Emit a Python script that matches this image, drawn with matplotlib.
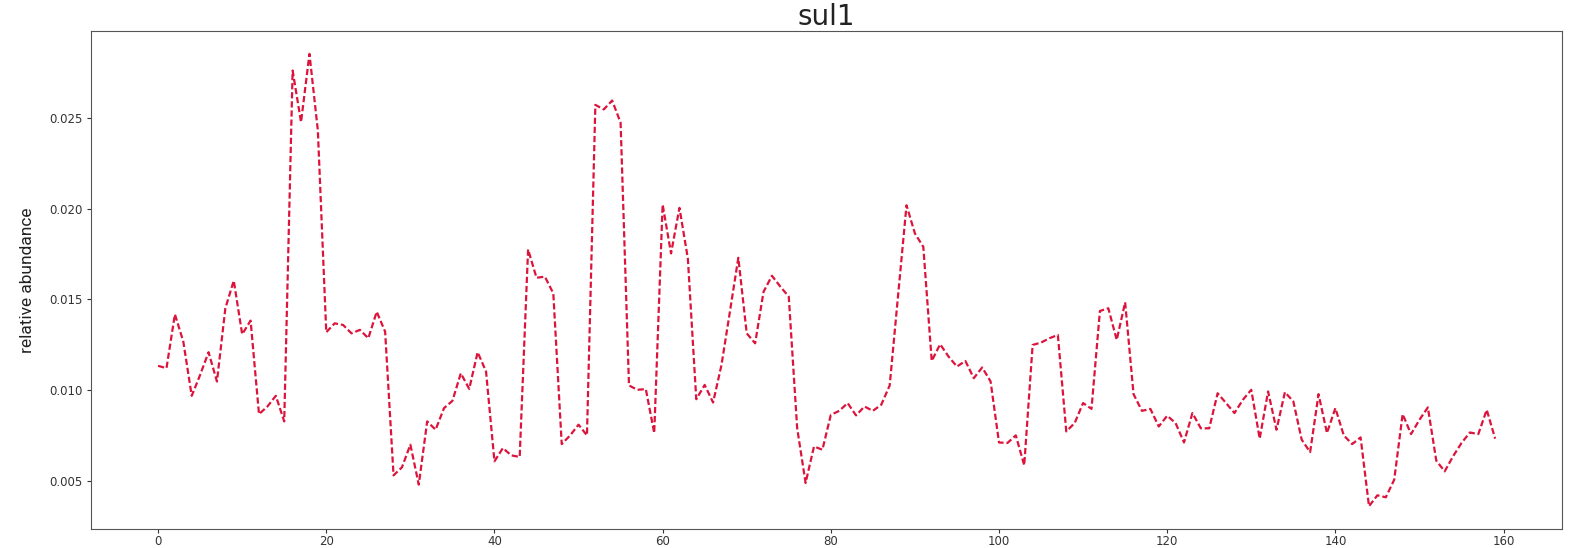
import matplotlib
matplotlib.use("Agg")
import matplotlib.pyplot as plt
import numpy as np

# sul1 relative abundance per sample (index 0..159)
sample_index = list(range(160))
sul1_abundance = [
    0.01134, 0.01121, 0.01418, 0.01267, 0.00969, 0.01084, 0.01209, 0.01048, 0.01451, 0.01603,
    0.01308, 0.01383, 0.00868, 0.00910, 0.00969, 0.00828, 0.02760, 0.02476, 0.02852, 0.02430,
    0.01319, 0.01368, 0.01359, 0.01313, 0.01332, 0.01286, 0.01432, 0.01322, 0.00531, 0.00575,
    0.00700, 0.00480, 0.00828, 0.00782, 0.00901, 0.00941, 0.01093, 0.01007, 0.01209, 0.01103,
    0.00608, 0.00681, 0.00641, 0.00632, 0.01775, 0.01619, 0.01625, 0.01533, 0.00703, 0.00751,
    0.00810, 0.00751, 0.02571, 0.02546, 0.02595, 0.02473, 0.01026, 0.01002, 0.01006, 0.00764,
    0.02022, 0.01753, 0.02004, 0.01725, 0.00950, 0.01029, 0.00932, 0.01139, 0.01432, 0.01729,
    0.01313, 0.01258, 0.01542, 0.01630, 0.01570, 0.01515, 0.00790, 0.00489, 0.00690, 0.00672,
    0.00864, 0.00886, 0.00929, 0.00861, 0.00910, 0.00886, 0.00920, 0.01026, 0.01524, 0.02018,
    0.01863, 0.01789, 0.01161, 0.01253, 0.01185, 0.01130, 0.01161, 0.01066, 0.01125, 0.01048,
    0.00712, 0.00709, 0.00751, 0.00586, 0.01249, 0.01262, 0.01286, 0.01304, 0.00773, 0.00819,
    0.00929, 0.00897, 0.01436, 0.01451, 0.01277, 0.01484, 0.00978, 0.00886, 0.00897, 0.00800,
    0.00859, 0.00819, 0.00712, 0.00874, 0.00790, 0.00790, 0.00983, 0.00929, 0.00874, 0.00947,
    0.01002, 0.00733, 0.00993, 0.00782, 0.00989, 0.00938, 0.00727, 0.00659, 0.00978, 0.00764,
    0.00901, 0.00751, 0.00703, 0.00740, 0.00361, 0.00421, 0.00410, 0.00507, 0.00868, 0.00758,
    0.00837, 0.00905, 0.00612, 0.00553, 0.00636, 0.00709, 0.00767, 0.00758, 0.00892, 0.00733,
]
x_ticks = [0, 20, 40, 60, 80, 100, 120, 140, 160]
y_ticks = [0.005, 0.010, 0.015, 0.020, 0.025]

fig = plt.figure(figsize=(15.73, 5.48), dpi=100)
ax = fig.add_axes([0.058, 0.035, 0.935, 0.908])

ax.plot(sample_index, sul1_abundance, color="crimson", linestyle="--",
        linewidth=1.6, dashes=(2.8, 1.3))

ax.set_xticks(x_ticks)
ax.set_yticks(y_ticks)
ax.yaxis.set_major_formatter(matplotlib.ticker.FormatStrFormatter("%.3f"))
ax.tick_params(axis="both", labelsize=8.5, colors="#333333", length=3)
ax.tick_params(axis="x", pad=1.5)
for side in ["left", "bottom", "right", "top"]:
    ax.spines[side].set_color("#555555")

ax.set_title("sul1", fontsize=20, color="#222222", pad=3)
ax.set_ylabel("relative abundance", fontsize=12.5, family=["Roboto", "DejaVu Sans"],
              color="#222222", labelpad=10)

fig.savefig("out.png", dpi=100)
